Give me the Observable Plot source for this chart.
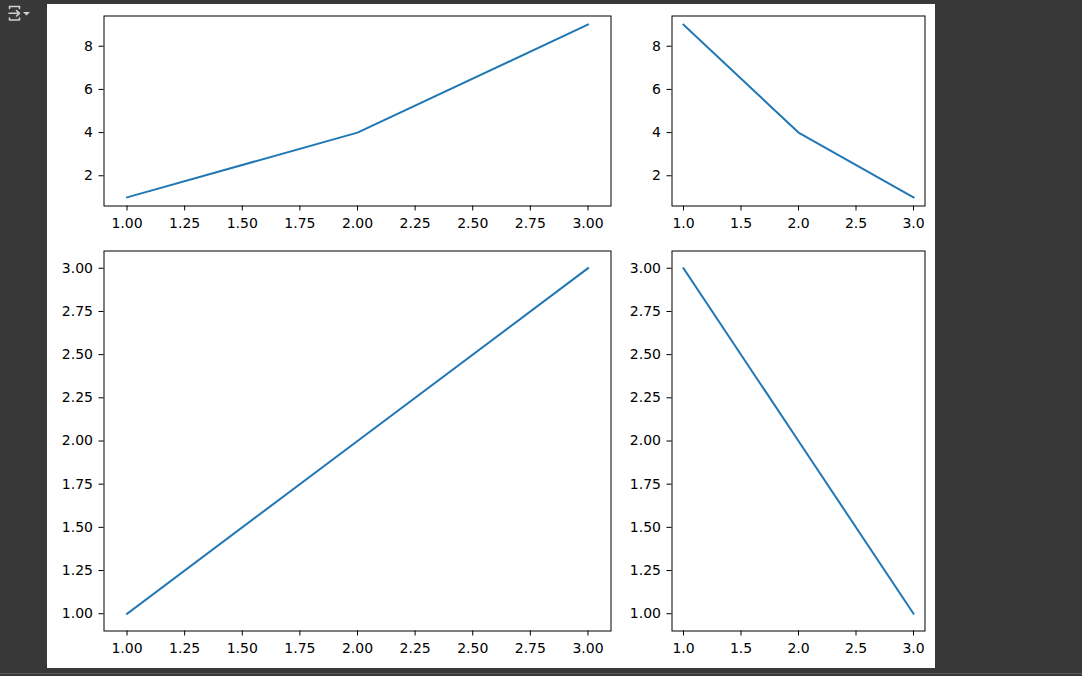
<!DOCTYPE html>
<html><head><meta charset="utf-8">
<script src="https://cdn.jsdelivr.net/npm/d3@7"></script>
<script src="https://cdn.jsdelivr.net/npm/@observablehq/plot@0.6"></script>
<style>
html,body{margin:0;padding:0;background:#383838;width:1082px;height:676px;overflow:hidden;}
#fig{position:absolute;left:47px;top:4px;width:888px;height:664px;background:#fff;}
#fig svg{position:absolute;max-width:none;}
#rule{position:absolute;left:0;top:673px;width:1082px;height:1px;background:#5a5a5a;}
#icon{position:absolute;left:0;top:0;}
</style></head><body>
<svg id="icon" width="40" height="28" viewBox="0 0 40 28">
  <g fill="none" stroke="#cfcfcf" stroke-width="1.6" stroke-linecap="round" stroke-linejoin="round">
    <path d="M9.5 8.5 V6.5 H19.5 V8.5"/>
    <path d="M9.5 18 V20 H19.5 V18"/>
    <path d="M9 13.3 H19.5 M16.5 10.5 L19.5 13.3 L16.5 16"/>
  </g>
  <path d="M23 12 H30 L26.5 15.6 Z" fill="#cfcfcf"/>
</svg>
<div id="fig"></div><div id="rule"></div>
<script>
const xValues = [1, 2, 3];
const squaresUp = [1, 4, 9];
const squaresDown = [9, 4, 1];
const linearUp = [1, 2, 3];
const linearDown = [3, 2, 1];
const xTicksFine = [1, 1.25, 1.5, 1.75, 2, 2.25, 2.5, 2.75, 3];
const xTicksCoarse = [1, 1.5, 2, 2.5, 3];
const yTicksSquares = [2, 4, 6, 8];
const yTicksLinear = [1, 1.25, 1.5, 1.75, 2, 2.25, 2.5, 2.75, 3];

const fig = document.getElementById("fig");
const pad = (a) => { const [lo, hi] = d3.extent(a); const p = (hi - lo) * 0.05; return [lo - p, hi + p]; };

function panel({xs, ys, xTicks, xFmt, yTicks, yFmt, box}) {
  const [l, t, r, b] = box;
  const svgL = Math.floor(l) - 56, svgT = Math.floor(t) - 10;
  const width = Math.ceil(r - svgL) + 6, height = Math.ceil(b - svgT) + 36;
  const ml = l - svgL, mt = t - svgT, mr = width - (r - svgL), mb = height - (b - svgT);
  const data = xs.map((x, i) => ({x, y: ys[i]}));
  const chart = Plot.plot({
    width, height, marginLeft: ml, marginRight: mr, marginTop: mt, marginBottom: mb,
    style: {fontFamily: "DejaVu Sans", fontSize: "14px", color: "#000", background: "transparent"},
    x: {domain: pad(xs), ticks: xTicks, tickFormat: d3.format(xFmt), label: null, tickSize: 5, tickPadding: 7},
    y: {domain: pad(ys), ticks: yTicks, tickFormat: d3.format(yFmt), label: null, tickSize: 5, tickPadding: 6},
    marks: [
      Plot.line(data, {x: "x", y: "y", stroke: "#1f77b4", strokeWidth: 2, strokeLinecap: "square", strokeLinejoin: "round"}),
      Plot.frame({stroke: "#000", strokeWidth: 1})
    ]
  });
  chart.style.left = svgL + "px";
  chart.style.top = svgT + "px";
  fig.appendChild(chart);
}

panel({xs: xValues, ys: squaresUp, xTicks: xTicksFine, xFmt: ".2f", yTicks: yTicksSquares, yFmt: "d", box: [56.5, 11.5, 563.5, 201.5]});
panel({xs: xValues, ys: squaresDown, xTicks: xTicksCoarse, xFmt: ".1f", yTicks: yTicksSquares, yFmt: "d", box: [624.5, 11.5, 877.5, 201.5]});
panel({xs: xValues, ys: linearUp, xTicks: xTicksFine, xFmt: ".2f", yTicks: yTicksLinear, yFmt: ".2f", box: [56.5, 246.5, 563.5, 626.5]});
panel({xs: xValues, ys: linearDown, xTicks: xTicksCoarse, xFmt: ".1f", yTicks: yTicksLinear, yFmt: ".2f", box: [624.5, 246.5, 877.5, 626.5]});
</script></body></html>
